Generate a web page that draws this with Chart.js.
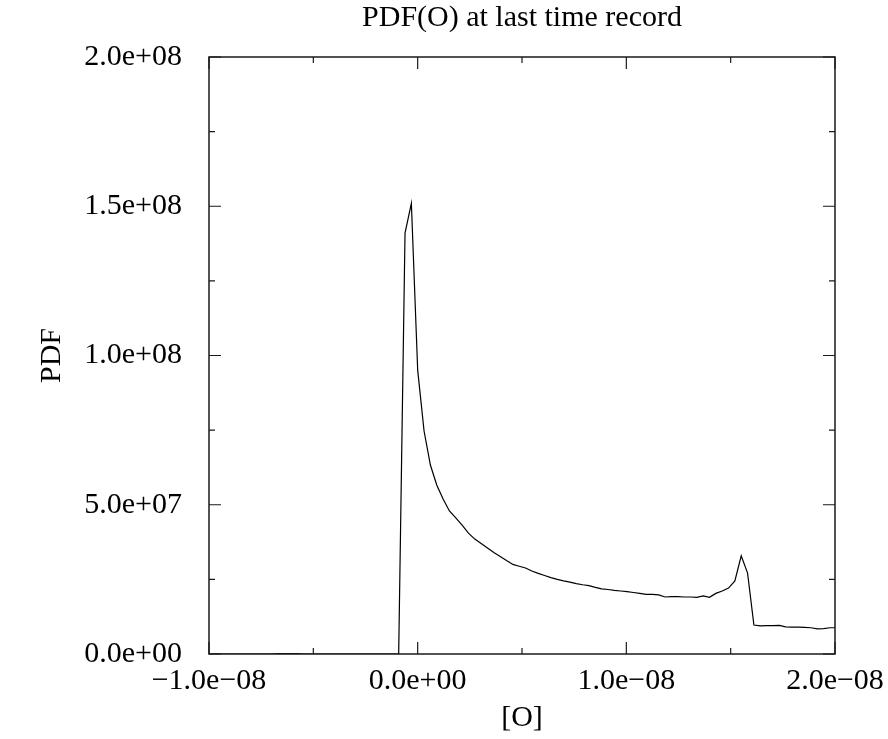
<!DOCTYPE html>
<html>
<head>
<meta charset="utf-8">
<title>PDF(O) at last time record</title>
<script src="https://cdn.jsdelivr.net/npm/chart.js"></script>
<style>
  html, body { margin: 0; padding: 0; background: #fff; }
  #pdf-chart { display: block; }
</style>
</head>
<body>
<canvas id="pdf-chart" width="888" height="739"></canvas>
<script>
// [O] bin centres, in units of 1e-9
var oBins = [
  -10.03, -9.726, -9.422, -9.118, -8.814, -8.510, -8.206, -7.902, -7.598, -7.294,
  -6.990, -6.686, -6.382, -6.078, -5.774, -5.470, -5.166, -4.862, -4.558, -4.254,
  -3.950, -3.646, -3.342, -3.038, -2.734, -2.430, -2.126, -1.822, -1.518, -1.214,
  -0.910, -0.606, -0.302, 0.002, 0.306, 0.610, 0.914, 1.218, 1.522, 1.826,
  2.130, 2.434, 2.738, 3.042, 3.346, 3.650, 3.954, 4.258, 4.562, 4.866,
  5.170, 5.474, 5.778, 6.082, 6.386, 6.690, 6.994, 7.298, 7.602, 7.906,
  8.210, 8.514, 8.818, 9.122, 9.426, 9.730, 10.034, 10.338, 10.642, 10.946,
  11.250, 11.554, 11.858, 12.162, 12.466, 12.770, 13.074, 13.378, 13.682, 13.986,
  14.290, 14.594, 14.898, 15.202, 15.506, 15.810, 16.114, 16.418, 16.722, 17.026,
  17.330, 17.634, 17.938, 18.242, 18.546, 18.850, 19.154, 19.458, 19.762, 20.066
];

var pdfValues = [
  0, 0, 0, 0, 0, 0, 0, 0, 0, 0,
  0, 1.5e5, 1.5e5, 1.5e5, 1.5e5, 0, 0, 0, 0, 0,
  0, 0, 0, 0, 0, 0, 0, 0, 0, 0,
  0, 1.41e8, 1.51e8, 9.5e7, 7.47e7, 6.33e7, 5.66e7, 5.19e7, 4.79e7, 4.56e7,
  4.32e7, 4.05e7, 3.85e7, 3.70e7, 3.55e7, 3.40e7, 3.27e7, 3.13e7, 3.00e7, 2.94e7,
  2.88e7, 2.78e7, 2.70e7, 2.63e7, 2.56e7, 2.50e7, 2.45e7, 2.41e7, 2.36e7, 2.32e7,
  2.29e7, 2.23e7, 2.18e7, 2.16e7, 2.13e7, 2.11e7, 2.09e7, 2.06e7, 2.03e7, 2.00e7,
  2.00e7, 1.98e7, 1.91e7, 1.92e7, 1.92e7, 1.91e7, 1.91e7, 1.90e7, 1.95e7, 1.90e7,
  2.03e7, 2.11e7, 2.21e7, 2.45e7, 3.29e7, 2.71e7, 9.7e6, 9.4e6, 9.5e6, 9.5e6,
  9.6e6, 9.1e6, 9.0e6, 9.0e6, 8.9e6, 8.8e6, 8.4e6, 8.5e6, 8.8e6, 8.8e6
];

var xTickValues = [-1e-8, 0, 1e-8, 2e-8];
var xTickLabels = ['\u22121.0e\u221208', '0.0e+00', '1.0e\u221208', '2.0e\u221208'];
var xMinorValues = [-0.5e-8, 0.5e-8, 1.5e-8];

var yTickValues = [0, 5e7, 1e8, 1.5e8, 2e8];
var yTickLabels = ['0.0e+00', '5.0e+07', '1.0e+08', '1.5e+08', '2.0e+08'];
var yMinorValues = [2.5e7, 7.5e7, 1.25e8, 1.75e8];

var SERIF = "'Liberation Serif', 'Times New Roman', 'DejaVu Serif', serif";

Chart.defaults.font.family = SERIF;
Chart.defaults.color = '#000';

function labelFor(values, labels, v) {
    for (var i = 0; i < values.length; i++) {
        if (Math.abs(values[i] - v) < 1e-3 * Math.abs(values[values.length - 1])) return labels[i];
    }
    return '';
}

// gnuplot-like frame with inward ticks on all four sides
var frameTicks = {
    id: 'frameTicks',
    afterDatasetsDraw: function (chart) {
        var ctx = chart.ctx;
        var a = chart.chartArea;
        var xs = chart.scales.x;
        var ys = chart.scales.y;
        ctx.save();
        ctx.strokeStyle = '#1a1a1a';
        ctx.lineWidth = 1.5;
        ctx.strokeRect(a.left, a.top, a.right - a.left, a.bottom - a.top);
        ctx.lineWidth = 1.2;
        ctx.beginPath();
        function xTick(v, len) {
            var px = xs.getPixelForValue(v);
            ctx.moveTo(px, a.bottom); ctx.lineTo(px, a.bottom - len);
            ctx.moveTo(px, a.top); ctx.lineTo(px, a.top + len);
        }
        function yTick(v, len) {
            var py = ys.getPixelForValue(v);
            ctx.moveTo(a.left, py); ctx.lineTo(a.left + len, py);
            ctx.moveTo(a.right, py); ctx.lineTo(a.right - len, py);
        }
        xTickValues.forEach(function (v) { xTick(v, 12); });
        xMinorValues.forEach(function (v) { xTick(v, 6); });
        yTickValues.forEach(function (v) { yTick(v, 12); });
        yMinorValues.forEach(function (v) { yTick(v, 6); });
        ctx.stroke();
        ctx.restore();
    }
};

var chart_element = document.getElementById('pdf-chart');

var _chart = new Chart(chart_element, {
    type: 'line',
    data: {
        datasets: [
            {
                label: 'PDF',
                data: oBins.map(function (o, i) { return { x: o * 1e-9, y: pdfValues[i] }; }),
                borderColor: '#000',
                borderWidth: 1.2,
                pointRadius: 0,
                tension: 0,
                fill: false
            }
        ]
    },
    options: {
        responsive: false,
        animation: false,
        layout: {
            padding: { left: 0, right: 53, top: 0, bottom: 0 }
        },
        plugins: {
            legend: { display: false },
            tooltip: { enabled: false },
            title: {
                display: true,
                fullSize: false,
                text: 'PDF(O) at last time record',
                font: { size: 30, weight: 'normal', family: SERIF },
                color: '#000',
                padding: { top: 0, bottom: 21 }
            }
        },
        scales: {
            x: {
                type: 'linear',
                min: -1e-8,
                max: 2e-8,
                grid: { display: false },
                border: { display: false },
                afterBuildTicks: function (scale) {
                    scale.ticks = xTickValues.map(function (v) { return { value: v }; });
                },
                afterFit: function (scale) {
                    scale.height = 85;
                    scale.paddingLeft = 0;
                    scale.paddingRight = 0;
                },
                ticks: {
                    autoSkip: false,
                    maxRotation: 0,
                    padding: 1,
                    font: { size: 30 },
                    callback: function (v) { return labelFor(xTickValues, xTickLabels, v); }
                },
                title: {
                    display: true,
                    text: '[O]',
                    font: { size: 30 },
                    padding: { top: 0, bottom: 3 }
                }
            },
            y: {
                min: 0,
                max: 2e8,
                grid: { display: false },
                border: { display: false },
                afterBuildTicks: function (scale) {
                    scale.ticks = yTickValues.map(function (v) { return { value: v }; });
                },
                afterFit: function (scale) { scale.width = 209; },
                ticks: {
                    autoSkip: false,
                    padding: 19,
                    font: { size: 30 },
                    callback: function (v) { return labelFor(yTickValues, yTickLabels, v); }
                },
                title: {
                    display: true,
                    text: 'PDF',
                    font: { size: 30 },
                    padding: { top: 34, bottom: 0 }
                }
            }
        }
    },
    plugins: [frameTicks]
});
</script>
</body>
</html>
